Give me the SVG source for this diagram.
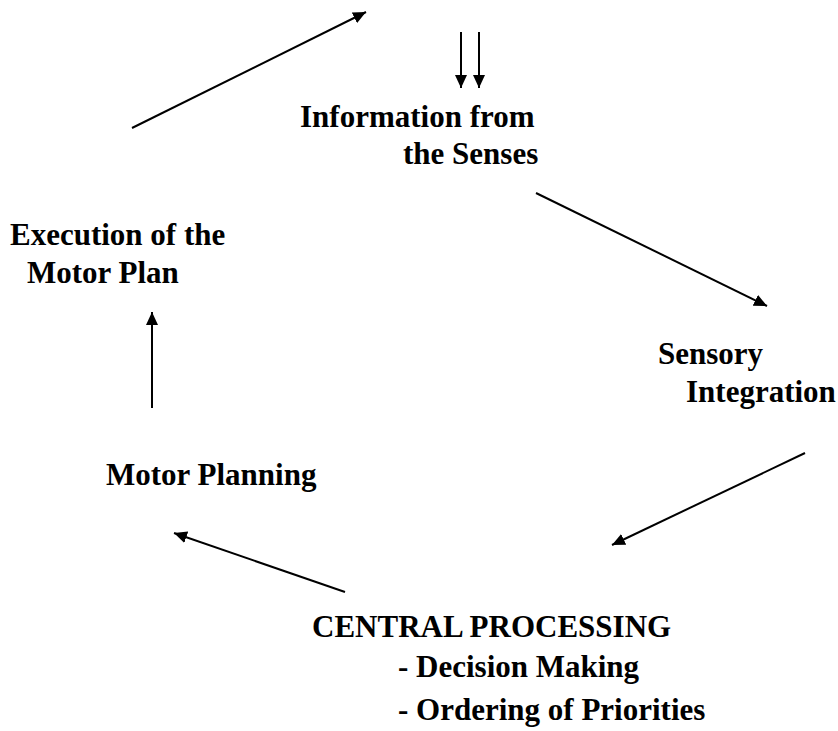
<svg xmlns="http://www.w3.org/2000/svg" width="838" height="731" viewBox="0 0 838 731">
<style>
text{font-family:"Liberation Serif","Times New Roman",serif;font-weight:bold;font-size:31px;fill:#000}
.c line{stroke:#000;stroke-width:2;fill:none}
</style>
<defs>
<marker id="ah" viewBox="0 0 13 12" refX="13" refY="6" markerWidth="13" markerHeight="12" markerUnits="userSpaceOnUse" orient="auto">
<path d="M0,0 L13,6 L0,12 z" fill="#000"/>
</marker>
</defs>
<rect width="838" height="731" fill="#fff"/>
<g id="senses"><text x="300" y="127">Information from</text><text x="403" y="164">the Senses</text></g>
<g id="sensory"><text x="658" y="364">Sensory</text><text x="686" y="402">Integration</text></g>
<g id="central"><text x="312" y="637">CENTRAL PROCESSING</text><text x="398" y="677">- Decision Making</text><text x="398" y="720">- Ordering of Priorities</text></g>
<g id="planning"><text x="106" y="485">Motor Planning</text></g>
<g id="execution"><text x="10" y="245">Execution of the</text><text x="27" y="283">Motor Plan</text></g>
<g class="c" id="connectors">
<line x1="132" y1="128" x2="366" y2="12" marker-end="url(#ah)"/>
<line x1="461" y1="32" x2="461" y2="88" marker-end="url(#ah)"/>
<line x1="479" y1="32" x2="479" y2="88" marker-end="url(#ah)"/>
<line x1="536" y1="193" x2="767" y2="306" marker-end="url(#ah)"/>
<line x1="805" y1="453" x2="612" y2="545" marker-end="url(#ah)"/>
<line x1="345" y1="592" x2="174" y2="533" marker-end="url(#ah)"/>
<line x1="152" y1="408" x2="152" y2="312" marker-end="url(#ah)"/>
</g>
</svg>
